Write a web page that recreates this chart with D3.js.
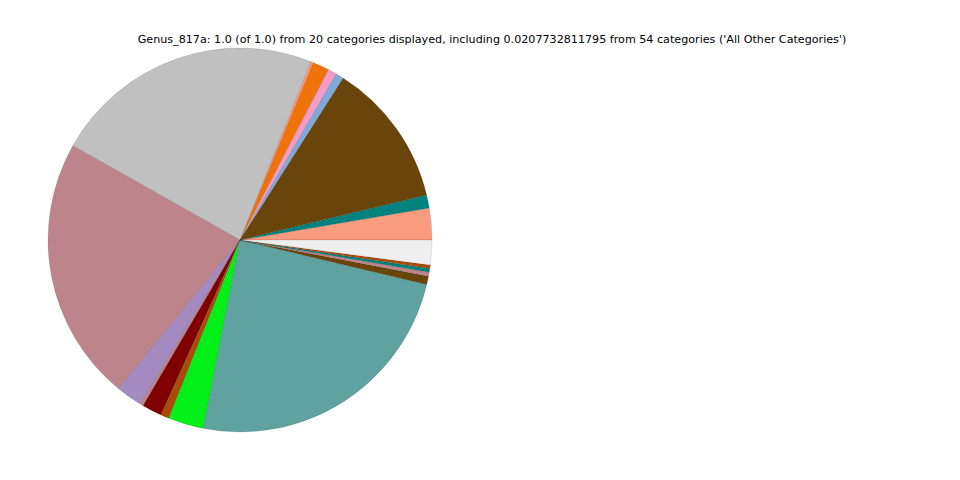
<!DOCTYPE html>
<html>
<head>
<meta charset="utf-8">
<script src="https://cdn.jsdelivr.net/npm/d3@7"></script>
<style>
  html, body { margin: 0; padding: 0; background: #fff; }
  svg { display: block; }
</style>
</head>
<body>
<svg id="chart" width="960" height="480"></svg>
<script>
const categories = [
  "Cat 1", "Cat 2", "Cat 3", "Cat 4", "Cat 5", "Cat 6", "Cat 7", "Cat 8", "Cat 9", "Cat 10",
  "Cat 11", "Cat 12", "Cat 13", "Cat 14", "Cat 15", "Cat 16", "Cat 17", "Cat 18", "Cat 19",
  "All Other Categories"
];
const values = [
  0.0267, 0.011, 0.122, 0.0067, 0.0073, 0.014, 0.0022, 0.228, 0.2225, 0.022,
  0.0028, 0.0167, 0.007, 0.030, 0.243, 0.007, 0.0035, 0.003, 0.003, 0.0207732811795
];
const colors = [
  "#f99b7e", "#00827f", "#69440b", "#7faad8", "#f59bc9", "#f07309", "#f99b7e", "#c0c0c0", "#bd858b", "#a38bc1",
  "#bd858b", "#800000", "#a84c06", "#00f018", "#5fa29f", "#69440b", "#bd858b", "#00827f", "#a84c06", "#efefef"
];
const title = "Genus_817a: 1.0 (of 1.0) from 20 categories displayed, including 0.0207732811795 from 54 categories ('All Other Categories')";

const svg = d3.select("#chart");
const cx = 240, cy = 240, r = 192;

const data = categories.map((c, i) => ({ name: c, value: values[i], color: colors[i] }));

const pie = d3.pie()
  .value(d => d.value)
  .sort(null)
  .startAngle(Math.PI / 2)
  .endAngle(Math.PI / 2 - 2 * Math.PI);

const arc = d3.arc().innerRadius(0).outerRadius(r);

svg.append("g")
  .attr("transform", `translate(${cx},${cy})`)
  .selectAll("path")
  .data(pie(data))
  .join("path")
  .attr("d", arc)
  .attr("fill", d => d.data.color)
  .attr("stroke", "rgba(0,0,0,0.25)")
  .attr("stroke-width", 0.4);

svg.append("text")
  .attr("x", 492)
  .attr("y", 43)
  .attr("text-anchor", "middle")
  .attr("font-family", "DejaVu Sans")
  .attr("font-size", 11.15)
  .attr("fill", "#000")
  .text(title);
</script>
</body>
</html>
